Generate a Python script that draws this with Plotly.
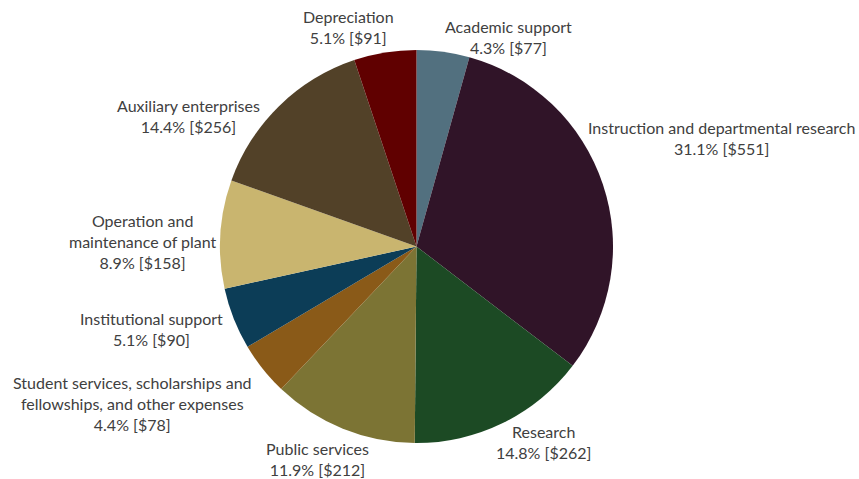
import plotly.graph_objects as go

W, H = 859, 479

categories = [
    "Academic support",
    "Instruction and departmental research",
    "Research",
    "Public services",
    "Student services, scholarships and<br>fellowships, and other expenses",
    "Institutional support",
    "Operation and<br>maintenance of plant",
    "Auxiliary enterprises",
    "Depreciation",
]
values = [77, 551, 262, 212, 78, 90, 158, 256, 91]
percents = ["4.3%", "31.1%", "14.8%", "11.9%", "4.4%", "5.1%", "8.9%", "14.4%", "5.1%"]
colors = ["#52707F", "#301428", "#1C4A24", "#7C7434", "#8A5A18",
          "#0C3D57", "#C9B56F", "#524128", "#600000"]

# label block centres (pixels) — layout only
label_pos = [(508, 37), (721, 138), (543, 442), (317, 459), (132, 403),
             (151, 329), (143, 241), (188, 116), (348, 27)]

# pie placement (pixels) — layout only
cx, cy, r = 416.5, 246.5, 196.5

fig = go.Figure(go.Pie(
    labels=categories,
    values=values,
    textinfo="none",
    sort=False,
    direction="clockwise",
    rotation=0,
    marker=dict(colors=colors, line=dict(width=0)),
    hoverinfo="label+value",
    showlegend=False,
    domain=dict(x=[(cx - r) / W, (cx + r) / W],
                y=[1 - (cy + r) / H, 1 - (cy - r) / H]),
))

for c, p, v, (px, py) in zip(categories, percents, values, label_pos):
    fig.add_annotation(
        text=f"{c}<br>{p} [${v}]",
        x=px / W, y=1 - py / H, xref="paper", yref="paper",
        xanchor="center", yanchor="middle", showarrow=False,
        align="center",
        font=dict(family="Lato", size=16, color="#404040"),
    )

fig.update_layout(
    width=W, height=H,
    margin=dict(l=0, r=0, t=0, b=0),
    paper_bgcolor="white",
    plot_bgcolor="white",
    font=dict(family="Lato", size=16, color="#404040"),
)

fig.write_html("out.html", config={"displayModeBar": False},
               post_script="document.body.style.margin='0';")
